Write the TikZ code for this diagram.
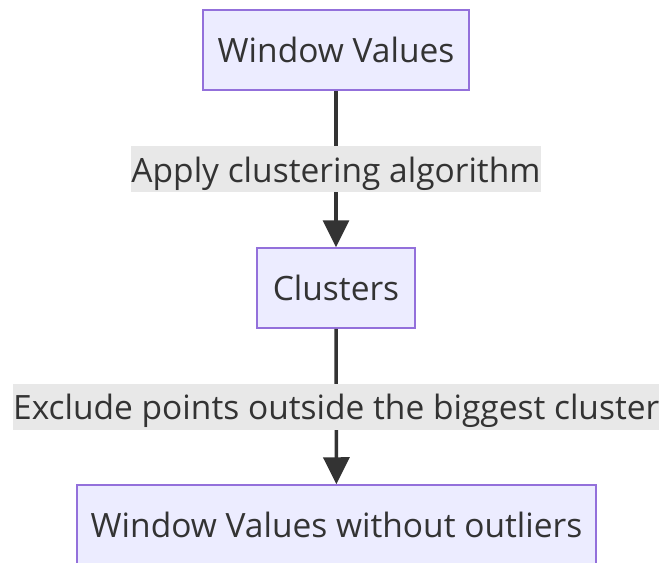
\documentclass[tikz,border=0pt]{standalone}
\usepackage{fontspec}
\setmainfont{Open Sans}
\usetikzlibrary{arrows.meta}
\definecolor{nodefill}{HTML}{ECECFF}
\definecolor{nodeline}{HTML}{9370DB}
\definecolor{edgeline}{HTML}{333333}
\definecolor{labelbg}{HTML}{E8E8E8}
\definecolor{textcol}{HTML}{333333}
\tikzset{
  flowbox/.style={draw=nodeline, fill=nodefill, line width=1.5pt, rectangle,
    inner sep=0pt, text=textcol, font=\fontsize{33.5}{40}\selectfont},
  edgelabel/.style={fill=labelbg, inner sep=0pt, text=textcol,
    text height=34pt, text depth=8pt,
    font=\fontsize{33.5}{40}\selectfont},
  flowedge/.style={draw=edgeline, line width=3.5pt,
    -{Triangle[length=27pt,width=26pt]}}
}
\begin{document}
\begin{tikzpicture}[x=1pt,y=-1pt]
  \useasboundingbox (0,0) rectangle (660,562);
  \node[flowbox, minimum width=266pt, minimum height=80pt] (wv) at (336,50) {Window Values};
  \node[flowbox, minimum width=158pt, minimum height=80pt] (cl) at (336,288) {Clusters};
  \node[flowbox, minimum width=519pt, minimum height=80pt] (wo) at (336.5,525) {Window Values without outliers};
  \draw[flowedge] (wv) -- node[edgelabel, minimum width=410pt, minimum height=46pt] (l1) {Apply clustering algorithm} (cl);
  \draw[flowedge] (cl) -- node[edgelabel, minimum width=646pt, minimum height=46pt] (l2) {Exclude points outside the biggest cluster} (wo);
\end{tikzpicture}
\end{document}
